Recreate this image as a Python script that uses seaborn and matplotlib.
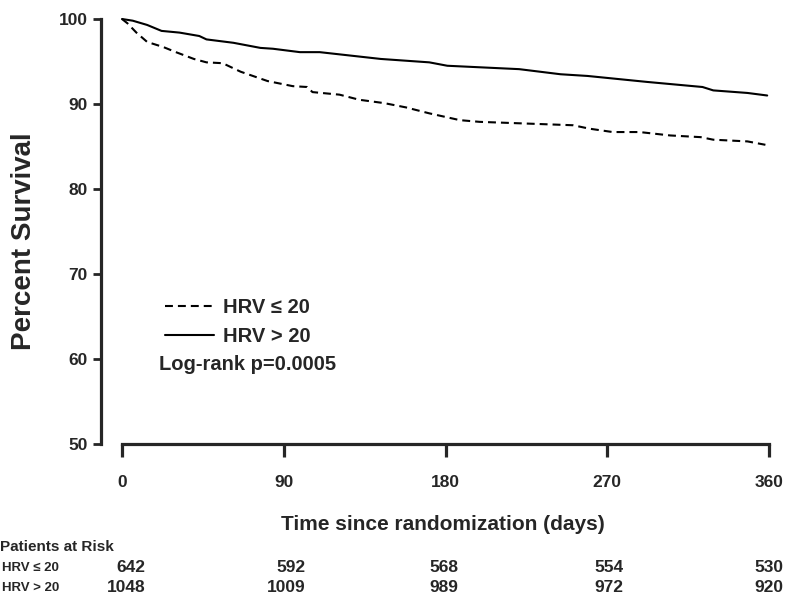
import matplotlib
matplotlib.use("Agg")
import matplotlib.pyplot as plt
from matplotlib import transforms
import pandas as pd
import seaborn as sns

# Kaplan-Meier survival estimates (percent) by HRV group
group_labels = ["HRV \u2264 20", "HRV > 20"]

low_days = [0, 3, 8, 14, 23, 30, 40, 47, 56, 66, 81, 95, 103, 106, 121, 132,
            146, 158, 171, 188, 199, 251, 260, 273, 288, 305, 322, 329, 348, 358]
low_surv = [100, 99.5, 98.4, 97.3, 96.7, 96.1, 95.3, 94.9, 94.8, 93.8, 92.7, 92.1,
            92.0, 91.4, 91.1, 90.5, 90.1, 89.6, 88.9, 88.1, 87.9, 87.5, 87.1, 86.7,
            86.7, 86.3, 86.1, 85.8, 85.6, 85.2]

high_days = [0, 6, 14, 22, 32, 43, 47, 62, 77, 84, 99, 110, 144, 171, 181, 221,
             244, 259, 292, 323, 329, 348, 359]
high_surv = [100, 99.8, 99.3, 98.6, 98.4, 98.0, 97.6, 97.2, 96.6, 96.5, 96.1, 96.1,
             95.3, 94.9, 94.5, 94.1, 93.5, 93.3, 92.6, 92.0, 91.6, 91.3, 91.0]

# Numbers at risk
risk_days = [0, 90, 180, 270, 360]
risk_low = [642, 592, 568, 554, 530]
risk_high = [1048, 1009, 989, 972, 920]

x_ticks = [0, 90, 180, 270, 360]
y_ticks = [50, 60, 70, 80, 90, 100]
p_value_text = "Log-rank p=0.0005"

sns.set_style("ticks")
plt.rcParams["font.family"] = ["Liberation Sans", "DejaVu Sans"]
plt.rcParams["font.weight"] = "bold"

df = pd.concat([
    pd.DataFrame({"day": low_days, "surv": low_surv, "group": group_labels[0]}),
    pd.DataFrame({"day": high_days, "surv": high_surv, "group": group_labels[1]}),
], ignore_index=True)

W, H = 786, 597
fig = plt.figure(figsize=(W / 100, H / 100), dpi=100)
ax = fig.add_axes([122 / W, 1 - 444 / H, 647 / W, 425 / H])

sns.lineplot(data=df, x="day", y="surv", hue="group", style="group",
             hue_order=group_labels, style_order=group_labels,
             palette=["black", "black"],
             dashes={group_labels[0]: (3.8, 2.4), group_labels[1]: ""},
             estimator=None, linewidth=1.5, ax=ax, clip_on=False)

ax.set_xlim(0, 360)
ax.set_ylim(50, 100)
ax.set_xticks(x_ticks)
ax.set_yticks(y_ticks)

sns.despine(ax=ax)
ax.spines["left"].set_position(("outward", 15))
ax.spines["left"].set_bounds(50, 100)
ax.spines["bottom"].set_bounds(0, 360)
for s in ("left", "bottom"):
    ax.spines[s].set_linewidth(2.3)

ax.tick_params(axis="y", length=6, width=2.0, pad=3.5, labelsize=12.5)
ax.tick_params(axis="x", length=9, width=2.3, pad=13, labelsize=12.5)
plt.setp(ax.get_xticklabels() + ax.get_yticklabels(), fontweight="bold")

ax.set_ylabel("Percent Survival", fontsize=20, fontweight="bold")
ax.yaxis.set_label_coords((24 - 122) / 647, (444 - 241) / 425)
ax.yaxis.label.set_rotation_mode("default")
ax.yaxis.label.set_verticalalignment("center")

ax.set_xlabel("Time since randomization (days)", fontsize=15, fontweight="bold")
ax.xaxis.set_label_coords((443 - 122) / 647, (444 - 525) / 425)
ax.xaxis.label.set_verticalalignment("center")

sns.move_legend(ax, loc="upper left",
                bbox_to_anchor=((165 - 122) / 647, (444 - 298) / 425),
                frameon=False, title=None, fontsize=14.5,
                handlelength=2.45, handletextpad=0.45, labelspacing=0.5,
                borderpad=0, borderaxespad=0)
for t in ax.get_legend().get_texts():
    t.set_fontweight("bold")

ax.text((248 - 122) / 647, (444 - 365) / 425, p_value_text, transform=ax.transAxes,
        ha="center", va="center", fontsize=14.5, fontweight="bold")

# Patients-at-risk table under the time axis
tr = transforms.blended_transform_factory(ax.transData, fig.transFigure)
risk_right_edges = [13, 102, 187, 279, 368]
row_y = [1 - 568 / H, 1 - 588 / H]
fig.text(0.0, 1 - 547 / H, "Patients at Risk", ha="left", va="center",
         fontsize=11, fontweight="bold")
for label, yy in zip(group_labels, row_y):
    fig.text(2 / W, yy, label, ha="left", va="center", fontsize=9.5, fontweight="bold")
for counts, yy in zip([risk_low, risk_high], row_y):
    for xr, n in zip(risk_right_edges, counts):
        ax.text(xr, yy, str(n), transform=tr, ha="right", va="center",
                fontsize=12.5, fontweight="bold", clip_on=False)

fig.savefig("out.png", dpi=100, facecolor="white")
